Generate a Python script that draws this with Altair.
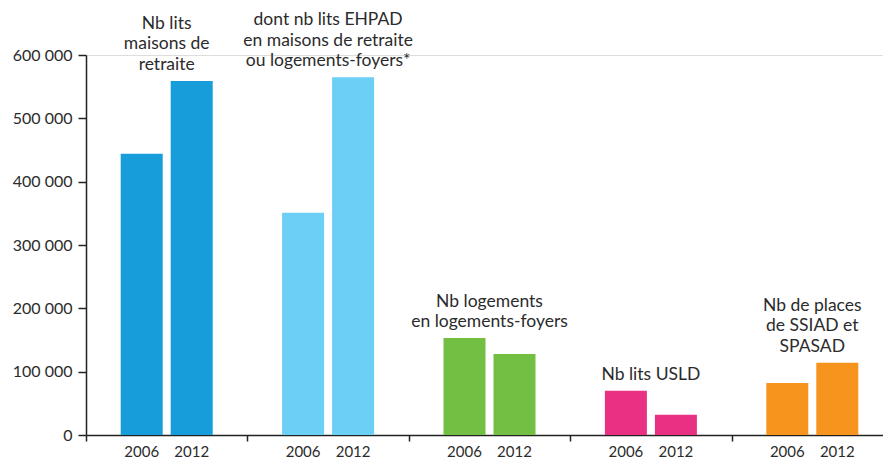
import altair as alt
import pandas as pd

groups = ["maisons", "ehpad", "logements", "usld", "ssiad"]
group_labels = [
    ["Nb lits", "maisons de", "retraite"],
    ["dont nb lits EHPAD", "en maisons de retraite", "ou logements-foyers*"],
    ["Nb logements", "en logements-foyers"],
    ["Nb lits USLD"],
    ["Nb de places", "de SSIAD et", "SPASAD"],
]
years = ["2006", "2012"]
values_2006 = [444000, 351000, 153000, 70000, 82000]
values_2012 = [559000, 565000, 128000, 32000, 114000]
colors = ["#179DD9", "#6CCFF6", "#72BF44", "#E93183", "#F7941D"]
y_ticks = [0, 100000, 200000, 300000, 400000, 500000, 600000]

rows = []
for g, v6, v12 in zip(groups, values_2006, values_2012):
    rows.append({"group": g, "year": "2006", "value": v6})
    rows.append({"group": g, "year": "2012", "value": v12})
df = pd.DataFrame(rows)

trows = []
for g, lines, v6, v12 in zip(groups, group_labels, values_2006, values_2012):
    n = len(lines)
    for i, line in enumerate(lines):
        trows.append({"group": g, "line": line, "k": n - 1 - i, "top": max(v6, v12)})
tdf = pd.DataFrame(trows)

FONT = "Lato"
TXT = "#2b2b2b"
AX = "#222222"

xscale = alt.Scale(domain=groups, paddingInner=0, paddingOuter=0, range=[0, 807])
x_enc = alt.X("group:N", sort=groups, scale=xscale,
              axis=alt.Axis(title=None, labels=False, tickBand="extent",
                            domainColor=AX, tickColor=AX,
                            tickSize=6, domainWidth=1.5, tickWidth=1.5))
xo_enc = alt.XOffset("year:N", sort=years,
                     scale=alt.Scale(domain=years, paddingInner=0.16, paddingOuter=0.694))
yscale = alt.Scale(domain=[0, 600000], nice=False)

bars = alt.Chart(df).mark_bar().encode(
    x=x_enc,
    xOffset=xo_enc,
    y=alt.Y("value:Q", scale=yscale,
            axis=alt.Axis(title=None, values=y_ticks, grid=False,
                          labelExpr="replace(format(datum.value, ','), ',', ' ')",
                          labelFont=FONT, labelFontSize=16, labelColor=TXT,
                          labelPadding=6, tickSize=8, tickColor=AX,
                          domainColor=AX, domainWidth=1.5, tickWidth=1.5)),
    color=alt.Color("group:N", scale=alt.Scale(domain=groups, range=colors), legend=None),
)

year_text = alt.Chart(df).mark_text(font=FONT, fontSize=15, color=TXT, dy=17,
                                    baseline="middle").encode(
    x=alt.X("group:N", sort=groups),
    xOffset=xo_enc,
    y=alt.datum(0),
    text="year:N",
)

title_layers = []
for k in range(3):
    title_layers.append(
        alt.Chart(tdf).transform_filter(alt.datum.k == k).mark_text(
            font=FONT, fontSize=17.5, color=TXT, baseline="alphabetic",
            align="center", dy=-11 - 20.5 * k).encode(
            x=alt.X("group:N", sort=groups),
            y=alt.Y("top:Q"),
            text="line:N",
        )
    )

chart = alt.layer(bars, year_text, *title_layers).properties(
    width=797, height=380,
    autosize=alt.AutoSizeParams(type="none"),
    padding={"left": 78, "top": 47, "right": 0, "bottom": 30},
).configure_view(stroke=None).configure(background="white")

chart.save("out.html", embed_options={"renderer": "svg", "actions": False})
